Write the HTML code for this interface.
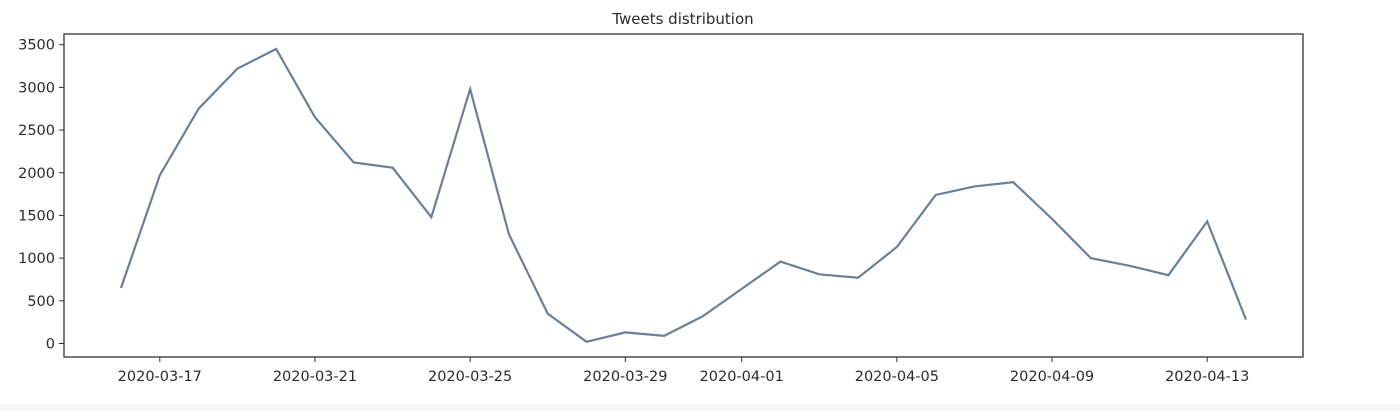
<!DOCTYPE html>
<html><head><meta charset="utf-8"><style>
body{margin:0;background:#fff;}
svg text{font-family:"DejaVu Sans","Liberation Sans",sans-serif;fill:#2b2b2b;}
</style></head><body>
<svg id="chart" width="1400" height="411">
<rect x="0" y="404" width="1400" height="7" fill="#f7f7f7"/>
<text x="683" y="24" font-size="15" text-anchor="middle">Tweets distribution</text>
<g id="axes"></g>
<rect x="64" y="34" width="1239" height="323" fill="none" stroke="#333" stroke-width="1.3"/>
</svg>
<script>
const dayLabels=["2020-03-16","2020-03-17","2020-03-18","2020-03-19","2020-03-20","2020-03-21","2020-03-22","2020-03-23","2020-03-24","2020-03-25","2020-03-26","2020-03-27","2020-03-28","2020-03-29","2020-03-30","2020-03-31","2020-04-01","2020-04-02","2020-04-03","2020-04-04","2020-04-05","2020-04-06","2020-04-07","2020-04-08","2020-04-09","2020-04-10","2020-04-11","2020-04-12","2020-04-13","2020-04-14"];
const tweetCounts=[650,1970,2750,3220,3450,2650,2120,2060,1480,2980,1280,350,20,130,90,320,640,960,810,770,1130,1740,1840,1890,1460,1000,910,800,1430,280];
const xTickDays=[1,5,9,13,16,20,24,28];
const yTicks=[0,500,1000,1500,2000,2500,3000,3500];
const ns="http://www.w3.org/2000/svg";
const g=document.getElementById('axes');
function xs(i){return 121+i*(1246-121)/29;}
function ys(v){return 343.5-v*(343.5-44.7)/3500;}
function mk(t,a){const e=document.createElementNS(ns,t);for(const k in a)e.setAttribute(k,a[k]);g.appendChild(e);return e;}
yTicks.forEach(v=>{
  const l=mk('line',{x1:59,x2:64,y1:ys(v),y2:ys(v),stroke:'#333'});
  
  
  const t=mk('text',{x:55,y:ys(v)+5,'font-size':14.5,'text-anchor':'end'});
  t.textContent=v;
  
  
});
xTickDays.forEach(d=>{
  const l=mk('line',{x1:xs(d),x2:xs(d),y1:357,y2:362,stroke:'#333'});
  
  
  const t=mk('text',{x:xs(d),y:381,'font-size':14.5,'text-anchor':'middle'});
  t.textContent=dayLabels[d];
  
  
});
const p=mk('polyline',{points:tweetCounts.map((v,i)=>xs(i)+','+ys(v)).join(' '),fill:'none',stroke:'#6a8096','stroke-width':2.2,'stroke-linejoin':'miter'});


</script>
</body></html>
